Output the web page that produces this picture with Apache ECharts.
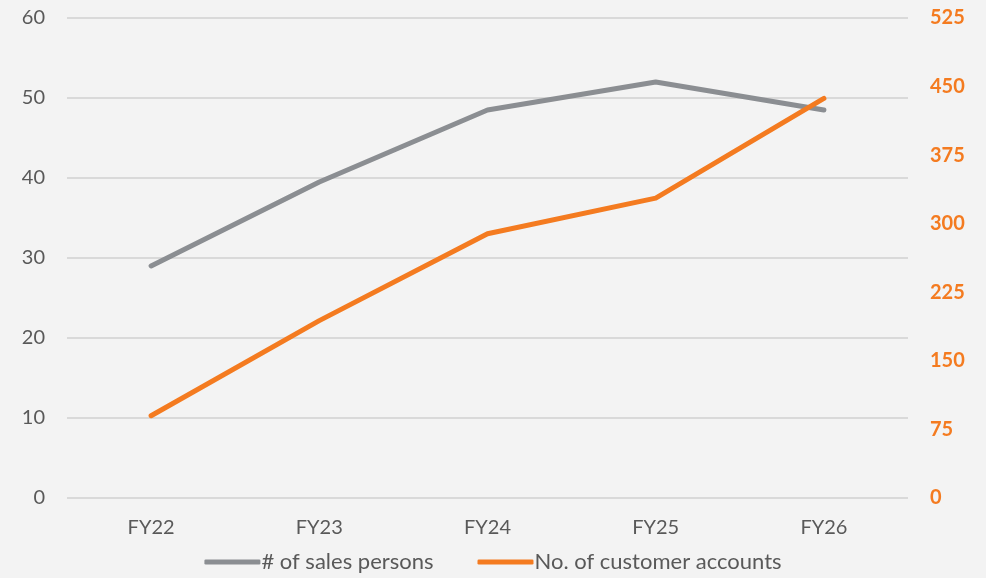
<!DOCTYPE html>
<html>
<head>
<meta charset="utf-8">
<script src="https://cdn.jsdelivr.net/npm/echarts@6/dist/echarts.min.js"></script>
<style>
  html, body { margin: 0; padding: 0; background: #f3f3f3; }
  #chart { width: 986px; height: 578px; }
</style>
</head>
<body>
<div id="chart"></div>
<script>
const categories = ['FY22', 'FY23', 'FY24', 'FY25', 'FY26']
const salesPersons = [29, 39.5, 48.5, 52, 48.5]
const customerAccounts = [90, 194, 289, 328, 437]

const FONT = 'Lato, "Open Sans", sans-serif'
const GREY = '#8b8e92'
const ORANGE = '#f47b20'

const chart = echarts.init(document.getElementById('chart'))

const option = {
  backgroundColor: '#f3f3f3',
  animation: false,
  grid: {
    top: 18,
    left: 67,
    right: 78,
    bottom: 80
  },
  legend: {
    bottom: 0,
    left: 'center',
    itemWidth: 56,
    itemHeight: 5,
    itemGap: 44,
    icon: 'roundRect',
    textStyle: {
      fontFamily: FONT,
      fontSize: 22,
      color: '#595959',
      padding: [0, 0, 0, -4]
    },
    data: ['# of sales persons', 'No. of customer accounts']
  },
  xAxis: [{
    type: 'category',
    data: categories,
    axisLine: { show: false },
    axisTick: { show: false },
    axisLabel: {
      color: '#595959',
      fontFamily: FONT,
      fontSize: 20,
      margin: 20
    }
  }],
  yAxis: [{
    type: 'value',
    min: 0,
    max: 60,
    interval: 10,
    axisLine: { show: false },
    axisTick: { show: false },
    splitLine: {
      lineStyle: { color: '#d9d9d9', width: 2 }
    },
    axisLabel: {
      color: '#595959',
      fontFamily: FONT,
      fontSize: 20,
      margin: 22
    }
  }, {
    type: 'value',
    min: 0,
    max: 525,
    interval: 75,
    position: 'right',
    axisLine: { show: false },
    axisTick: { show: false },
    splitLine: { show: false },
    axisLabel: {
      color: ORANGE,
      fontFamily: FONT,
      fontWeight: 'bold',
      fontSize: 20,
      margin: 22
    }
  }],
  series: [{
    name: '# of sales persons',
    type: 'line',
    data: salesPersons,
    yAxisIndex: 0,
    showSymbol: false,
    symbol: 'none',
    lineStyle: { width: 5, color: GREY, cap: 'round', join: 'round' },
    itemStyle: { color: GREY }
  }, {
    name: 'No. of customer accounts',
    type: 'line',
    data: customerAccounts,
    yAxisIndex: 1,
    showSymbol: false,
    symbol: 'none',
    lineStyle: { width: 5, color: ORANGE, cap: 'round', join: 'round' },
    itemStyle: { color: ORANGE }
  }]
}

chart.setOption(option)
</script>
</body>
</html>
